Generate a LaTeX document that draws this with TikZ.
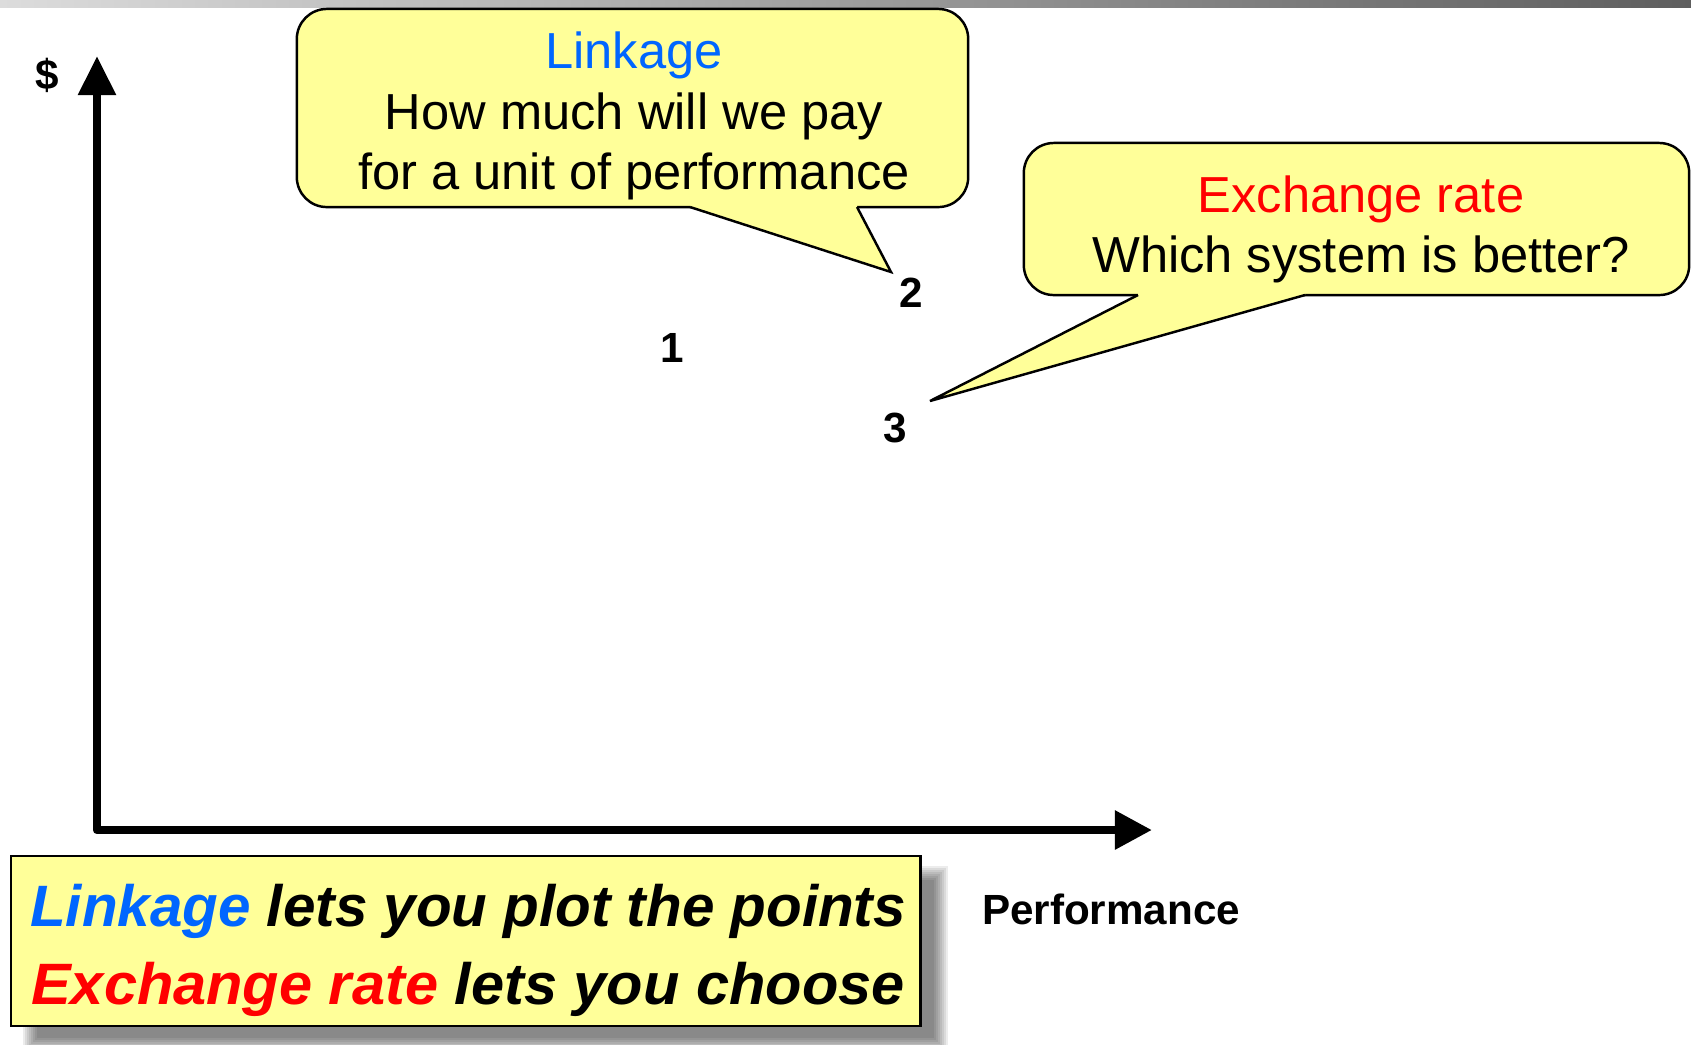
\documentclass[tikz,border=0pt]{standalone}
\usepackage{fontspec}
\setmainfont{Liberation Sans}
\usetikzlibrary{arrows.meta}
\definecolor{callfill}{HTML}{FFFF99}
\definecolor{linkblue}{HTML}{0066FF}
\definecolor{xred}{HTML}{FF0000}
\definecolor{barleft}{HTML}{DCDCDC}
\definecolor{barright}{HTML}{5E5E5E}
\begin{document}
\begin{tikzpicture}[x=0.01cm,y=-0.01cm,
  callbox/.style={draw=black, line width=0.7pt, fill=callfill, rounded corners=0.3cm, inner sep=0pt},
  calltext/.style={align=center, inner sep=0pt, font=\fontsize{14.4}{17.2}\selectfont},
  tailline/.style={draw=black, line width=0.7pt, line join=miter},
  lbl/.style={font=\fontsize{12}{14}\selectfont\bfseries, inner sep=0pt},
  axisline/.style={line width=0.086cm, line join=round,
    {Triangle[length=0.39cm,width=0.36cm]}-{Triangle[length=0.37cm,width=0.37cm]}},
  notebox/.style={draw=black, line width=0.7pt, fill=callfill, inner sep=0pt},
  notetext/.style={align=center, inner sep=0pt, font=\fontsize{16.6}{22}\selectfont\bfseries\itshape},
]
\useasboundingbox (0,0) rectangle (1691,1044);

% title bar gradient
\shade[left color=barleft, right color=barright] (0,0) rectangle (1691,7);

% axes
\coordinate (ytop) at (97,56);
\coordinate (origin) at (97,830);
\coordinate (xend) at (1152,830);
\draw[axisline] (ytop) -- (origin) -- (xend);
\node[lbl] (dollar) at (47,75) {\$};
\node[lbl] (perf) at (1111,909) {Performance};

% plotted points
\node[lbl] (p1) at (672,348) {1};
\node[lbl] (p2) at (911,293) {2};
\node[lbl] (p3) at (895,428) {3};

% linkage callout
\node[callbox, minimum width=6.71cm, minimum height=1.98cm] (linkbox) at (632.5,108) {};
\coordinate (lt1) at (690,207);
\coordinate (lt2) at (857,207);
\coordinate (ltip) at (891,272);
\fill[callfill] (lt1) -- (ltip) -- (lt2) -- ++(0,-5) -- (690,202) -- cycle;
\draw[tailline] (lt1) -- (ltip) -- (lt2);
\node[calltext] (linktext) at (634,116)
  {\textcolor{linkblue}{Linkage}\\How much will we pay\\for a unit of performance};

% exchange rate callout
\node[callbox, minimum width=6.65cm, minimum height=1.52cm] (xbox) at (1356.5,219) {};
\coordinate (xt1) at (1138,295);
\coordinate (xt2) at (1305,295);
\coordinate (xtip) at (930,401);
\fill[callfill] (xt1) -- (xtip) -- (xt2) -- ++(0,-5) -- (1138,290) -- cycle;
\draw[tailline] (xt1) -- (xtip) -- (xt2);
\node[calltext] (xtext) at (1361,229.6)
  {\textcolor{xred}{Exchange rate}\\Which system is better?};

% summary note with soft shadow
\foreach \e in {-6,-4,...,8}
  \fill[black, opacity=0.075] (31-\e,874-\e) rectangle (940+\e,1044+\e);
\node[notebox, minimum width=9.09cm, minimum height=1.70cm] (note) at (465.5,941) {};
\node[notetext] (notetxt) at (468,950.5)
  {\textcolor{linkblue}{Linkage} lets you plot the points\\
   \scalebox{1.02}[1]{\textcolor{xred}{Exchange rate} lets you choose}};
\end{tikzpicture}
\end{document}
